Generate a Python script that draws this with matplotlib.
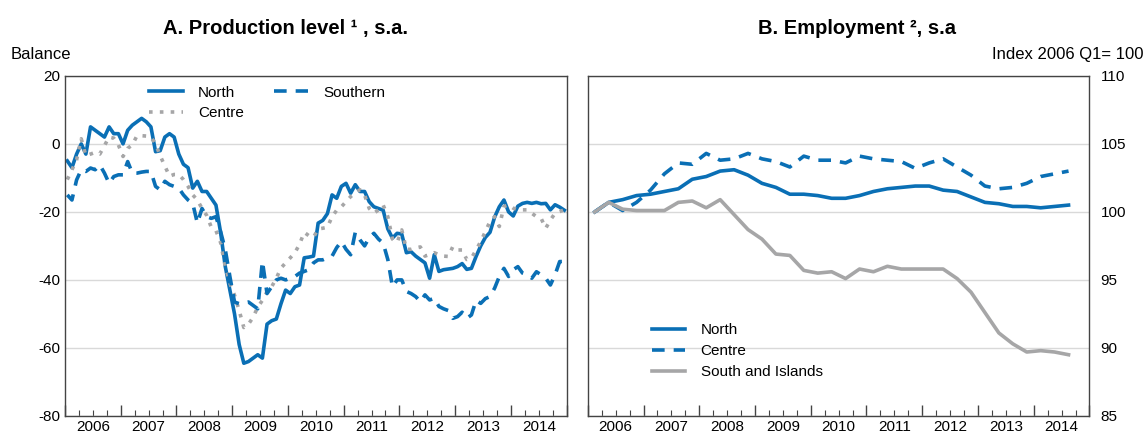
import numpy as np
import matplotlib
matplotlib.use("Agg")
import matplotlib.pyplot as plt
from matplotlib.ticker import FixedLocator, FuncFormatter, NullFormatter

# =========================
# データ
# =========================
# A. Production level (monthly, 2006m1 - 2014m12), balance
north_prod = [
    -5, -7, -3, 0, -3, 5, 4, 3, 2, 5, 3, 3,
    0, 4, 5.5, 6.5, 7.5, 6.5, 5, -2.3, -2, 2, 3, 2,
    -3, -6, -7, -13, -11, -14, -14, -16, -18, -26, -36, -43,
    -50, -59, -64.5, -64, -63, -62, -63, -53, -52, -51.5, -47, -43,
    -44, -42, -41.5, -33.5, -33.3, -33, -23.3, -22.5, -20.5, -15, -16, -12.5,
    -11.6, -14.5, -12, -14, -14, -17, -18.5, -19, -19.5, -25, -27.7, -26.3,
    -26.5, -32, -31.7, -33, -34, -35, -39.5, -32.6, -37.5, -37, -36.8, -36.6,
    -36.1, -35.2, -36.9, -36.6, -33.1, -30, -27.5, -26, -21.5, -18.5, -16.5, -20,
    -21.2, -18.3, -17.5, -17.2, -17.5, -17.2, -17.6, -17.5, -19.4, -17.9, -18.6, -19.5,
]
centre_prod = [
    -10.5, -7.6, -4.7, 1.5, -3.5, -3, -2.5, -3, -0.5, 2, 1.7, -0.3,
    -3.7, -1.3, -0.3, 2.4, 2.4, 2.3, 2, 0, -3.5, -6.5, -9.5, -9,
    -9, -10.5, -12.5, -15, -16.5, -19, -21, -24.5, -25.5, -29, -36, -41,
    -44.5, -49, -54, -53, -51, -48, -46, -43.5, -42, -39.5, -36.5, -35,
    -33.5, -32, -29.5, -26, -27, -27.5, -25, -24.8, -24.5, -21.4, -19.5, -18.5,
    -17, -15.5, -14.5, -13.5, -15, -19, -20.4, -19.4, -18, -21.4, -28, -29,
    -25.3, -31, -31, -30.6, -30.3, -33, -32.5, -32, -32.6, -33, -33.1, -30.2,
    -31.2, -31.2, -34, -33.6, -31.2, -28.7, -25.8, -22.8, -21.4, -24.3, -18.4, -17.9,
    -18.9, -19.4, -19.4, -19.4, -20.4, -21.4, -21.9, -24.8, -22.4, -20.4, -19.9, -19.4,
]
southern_prod = [
    -15, -16.5, -10.6, -7.6, -8.1, -7.1, -7.6, -6.2, -8.6, -11.6, -9.6, -9.1,
    -9.1, -5.2, -8.6, -8.6, -8.3, -8.1, -8.1, -12.5, -13.5, -11, -12, -12.5,
    -13, -15, -16.5, -17.5, -23.3, -19, -21.4, -21.9, -21.4, -25.8, -31, -39,
    -46.5, -47, -46.8, -46.5, -47.5, -48.5, -34.5, -44, -42, -40, -39.5, -40,
    -39.5, -39, -38, -37.5, -37, -35, -34.1, -34.1, -33.5, -33, -30.5, -28.7,
    -31, -32.6, -26, -28.2, -30, -27.5, -26.3, -28, -29.2, -34, -42, -40,
    -40, -43.4, -44, -44.9, -46.4, -44.4, -45.9, -45.4, -47.8, -48.5, -49, -51.3,
    -50.8, -49.5, -51.3, -50.3, -46, -46.9, -45.5, -44.9, -42.4, -39, -36.6, -39,
    -37, -36.1, -38, -38.5, -39.5, -37.6, -38.5, -39.5, -41.5, -38.5, -34.6, -34.6,
]

# B. Employment (quarterly, 2006Q1 - 2014Q3), index 2006 Q1 = 100
north_emp = [
    100, 100.7, 100.9, 101.2, 101.3, 101.5, 101.7, 102.4, 102.6, 103, 103.1, 102.7,
    102.1, 101.8, 101.3, 101.3, 101.2, 101, 101, 101.2, 101.5, 101.7, 101.8, 101.9,
    101.9, 101.6, 101.5, 101.1, 100.7, 100.6, 100.4, 100.4, 100.3, 100.4, 100.5,
]
centre_emp = [
    100, 100.7, 100.1, 100.7, 101.6, 102.8, 103.6, 103.5, 104.3, 103.8, 103.9, 104.3,
    103.9, 103.7, 103.3, 104.1, 103.8, 103.8, 103.6, 104.1, 103.9, 103.8, 103.7, 103.2,
    103.6, 103.9, 103.3, 102.7, 101.9, 101.7, 101.8, 102.1, 102.6, 102.8, 103,
]
south_emp = [
    100, 100.7, 100.2, 100.1, 100.1, 100.1, 100.7, 100.8, 100.3, 100.9, 99.8, 98.7,
    98, 96.9, 96.8, 95.7, 95.5, 95.6, 95.1, 95.8, 95.6, 96, 95.8, 95.8,
    95.8, 95.8, 95.1, 94.1, 92.6, 91.1, 90.3, 89.7, 89.8, 89.7, 89.5,
]

years = list(range(2006, 2015))

x_month = 2006 + (np.arange(len(north_prod)) + 0.5) / 12
x_quarter = 2006 + (np.arange(len(north_emp)) + 0.5) / 4

# =========================
# スタイル
# =========================
plt.rcParams["font.family"] = ["Liberation Sans", "DejaVu Sans"]
plt.rcParams["font.size"] = 11
plt.rcParams["axes.unicode_minus"] = False

blue = "#0a6fb5"
grey = "#a6a6a7"
grid_c = "#d9d9d9"
spine_c = "#444444"


def year_axis(ax):
    ax.set_xlim(2006, 2015)
    ax.xaxis.set_major_locator(FixedLocator(range(2006, 2016)))
    ax.xaxis.set_major_formatter(NullFormatter())
    quarters = [y + q / 4 for y in years for q in (1, 2, 3)]
    ax.xaxis.set_minor_locator(FixedLocator(quarters))
    ax.xaxis.set_minor_formatter(FuncFormatter(
        lambda v, p: str(int(v)) if abs(v - int(v) - 0.5) < 1e-6 else ""))
    ax.tick_params(axis="x", which="major", direction="in", length=8,
                   width=1, color=spine_c)
    ax.tick_params(axis="x", which="minor", direction="in", length=4,
                   width=0.8, color=spine_c, pad=3, labelsize=11)
    ax.tick_params(axis="y", length=0, labelsize=11)
    ax.grid(axis="y", color=grid_c, linewidth=1)
    ax.set_axisbelow(True)
    for s in ax.spines.values():
        s.set_color(spine_c)
        s.set_linewidth(1)


fig = plt.figure(figsize=(11.48, 4.36), dpi=100)

# =========================
# A. Production level
# =========================
ax1 = fig.add_axes([0.0566, 0.046, 0.437, 0.78])
ax1.plot(x_month, north_prod, color=blue, lw=2.6, label="North")
ax1.plot(x_month, centre_prod, color=grey, lw=2.6, ls=(0, (1, 2)),
         label="Centre")
ax1.plot(x_month, southern_prod, color=blue, lw=2.6, ls=(0, (3.5, 2.5)),
         label="Southern")
ax1.set_ylim(-80, 20)
ax1.set_yticks([-80, -60, -40, -20, 0, 20])
year_axis(ax1)
ax1.legend(ncol=2, loc="upper left", bbox_to_anchor=(0.14, 1.012),
           frameon=False, handlelength=2.2, handletextpad=1.0,
           columnspacing=2.0, labelspacing=0.45, fontsize=11)
fig.text(0.249, 0.923, "A. Production level ¹ , s.a.", ha="center",
         fontsize=14.5, fontweight="bold")
fig.text(0.009, 0.865, "Balance", ha="left", fontsize=12)

# =========================
# B. Employment
# =========================
ax2 = fig.add_axes([0.512, 0.046, 0.437, 0.78])
ax2.plot(x_quarter, north_emp, color=blue, lw=2.6, label="North")
ax2.plot(x_quarter, centre_emp, color=blue, lw=2.6, ls=(0, (3.5, 2.5)),
         label="Centre")
ax2.plot(x_quarter, south_emp, color=grey, lw=2.6, label="South and Islands")
ax2.set_ylim(85, 110)
ax2.set_yticks([85, 90, 95, 100, 105, 110])
ax2.yaxis.tick_right()
year_axis(ax2)
ax2.tick_params(axis="y", pad=8)
ax2.legend(loc="lower left", bbox_to_anchor=(0.1, 0.068), frameon=False,
           handlelength=2.2, handletextpad=1.0, labelspacing=0.45,
           fontsize=11)
fig.text(0.7465, 0.923, "B. Employment ², s.a", ha="center",
         fontsize=14.5, fontweight="bold")
fig.text(0.996, 0.865, "Index 2006 Q1= 100", ha="right", fontsize=12)

fig.savefig("out.png", dpi=100)
